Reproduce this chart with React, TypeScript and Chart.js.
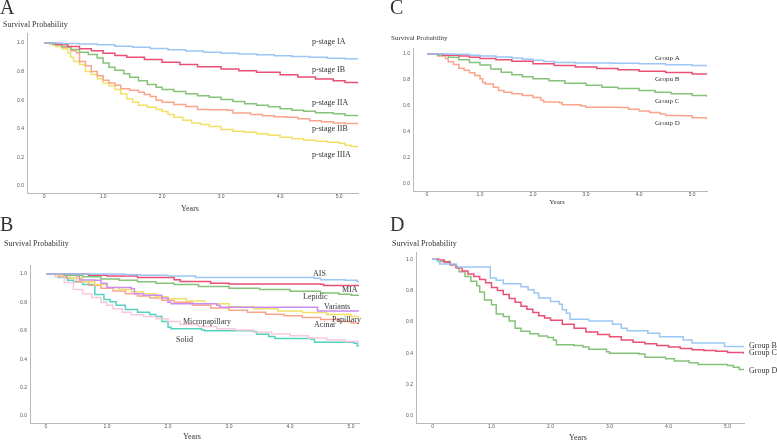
import React, { useEffect, useRef } from 'react';
import { Chart, registerables } from 'chart.js';

Chart.register(...registerables);

type Pt = [number, number];

// ---------- Panel A : p-stage ----------
const stageIA: Pt[] = [[0,1],[0.3,0.997],[0.6,0.993],[0.9,0.987],[1.2,0.978],[1.5,0.97],[1.8,0.961],[2.1,0.952],[2.4,0.944],[2.7,0.936],[3.0,0.929],[3.3,0.923],[3.6,0.917],[3.9,0.911],[4.2,0.905],[4.5,0.9],[4.8,0.894],[5.1,0.889],[5.32,0.886]];
const stageIB: Pt[] = [[0,1],[0.2,0.99],[0.4,0.975],[0.6,0.96],[0.8,0.945],[1.0,0.928],[1.2,0.912],[1.4,0.9],[1.7,0.885],[2.0,0.866],[2.3,0.85],[2.6,0.834],[3.0,0.818],[3.3,0.806],[3.6,0.795],[4.0,0.777],[4.3,0.762],[4.6,0.748],[4.9,0.735],[5.1,0.724],[5.32,0.716]];
const stageIIA: Pt[] = [[0,1],[0.15,0.99],[0.3,0.975],[0.45,0.955],[0.6,0.935],[0.75,0.92],[0.9,0.895],[1.0,0.86],[1.1,0.83],[1.2,0.81],[1.35,0.785],[1.45,0.76],[1.6,0.735],[1.75,0.71],[1.9,0.69],[2.0,0.675],[2.2,0.66],[2.4,0.645],[2.6,0.63],[2.8,0.62],[3.0,0.605],[3.2,0.59],[3.4,0.575],[3.6,0.565],[3.8,0.553],[4.0,0.54],[4.2,0.53],[4.4,0.522],[4.6,0.512],[4.9,0.505],[5.1,0.492],[5.32,0.485]];
const stageIIB: Pt[] = [[0,1],[0.15,0.99],[0.3,0.97],[0.45,0.945],[0.55,0.93],[0.6,0.87],[0.7,0.84],[0.8,0.8],[0.9,0.77],[1.0,0.74],[1.1,0.72],[1.2,0.705],[1.3,0.68],[1.45,0.67],[1.6,0.655],[1.7,0.64],[1.8,0.625],[1.9,0.6],[2.0,0.585],[2.2,0.57],[2.4,0.555],[2.6,0.535],[2.8,0.532],[3.1,0.53],[3.2,0.51],[3.5,0.5],[3.7,0.49],[3.9,0.483],[4.1,0.48],[4.3,0.47],[4.5,0.455],[4.7,0.448],[4.9,0.44],[5.1,0.436],[5.32,0.435]];
const stageIIIA: Pt[] = [[0,1],[0.1,0.99],[0.2,0.975],[0.3,0.96],[0.4,0.93],[0.45,0.9],[0.5,0.87],[0.6,0.85],[0.7,0.8],[0.8,0.78],[0.9,0.75],[1.0,0.72],[1.1,0.7],[1.2,0.675],[1.3,0.645],[1.4,0.61],[1.5,0.585],[1.6,0.565],[1.75,0.55],[1.9,0.535],[2.0,0.52],[2.1,0.5],[2.2,0.48],[2.35,0.46],[2.5,0.44],[2.65,0.43],[2.8,0.415],[3.0,0.395],[3.2,0.383],[3.4,0.375],[3.6,0.365],[3.8,0.355],[4.0,0.34],[4.2,0.33],[4.4,0.32],[4.6,0.312],[4.8,0.305],[5.0,0.298],[5.1,0.285],[5.2,0.275],[5.32,0.268]];

// ---------- Panel C : groups ----------
const cGroupA: Pt[] = [[0,1],[0.5,0.997],[0.8,0.99],[1.0,0.985],[1.3,0.977],[1.6,0.97],[1.8,0.96],[2.0,0.952],[2.2,0.942],[2.4,0.935],[2.8,0.93],[3.5,0.928],[4.0,0.925],[4.5,0.918],[5.0,0.912],[5.28,0.908]];
const cGroupB: Pt[] = [[0,1],[0.3,0.99],[0.6,0.985],[0.8,0.975],[1.0,0.965],[1.3,0.955],[1.6,0.945],[2.0,0.925],[2.4,0.912],[2.8,0.9],[3.2,0.888],[3.6,0.878],[4.0,0.868],[4.5,0.857],[5.0,0.846],[5.28,0.84]];
const cGroupC: Pt[] = [[0,1],[0.2,0.99],[0.4,0.975],[0.6,0.955],[0.8,0.935],[1.0,0.915],[1.2,0.885],[1.4,0.86],[1.6,0.84],[1.8,0.825],[2.0,0.81],[2.3,0.795],[2.6,0.775],[3.0,0.76],[3.3,0.745],[3.6,0.735],[4.0,0.72],[4.3,0.705],[4.6,0.695],[5.0,0.68],[5.28,0.67]];
const cGroupD: Pt[] = [[0,1],[0.2,0.985],[0.35,0.965],[0.4,0.94],[0.5,0.92],[0.6,0.89],[0.7,0.875],[0.8,0.855],[0.9,0.835],[1.0,0.81],[1.05,0.78],[1.1,0.77],[1.25,0.745],[1.35,0.72],[1.45,0.705],[1.6,0.695],[1.8,0.68],[2.0,0.665],[2.15,0.645],[2.2,0.63],[2.5,0.625],[2.55,0.61],[2.9,0.6],[3.0,0.59],[3.6,0.588],[3.8,0.575],[4.0,0.562],[4.2,0.55],[4.4,0.538],[4.5,0.527],[4.8,0.524],[5.0,0.51],[5.28,0.498]];

// ---------- Panel B : histologic subtypes ----------
const bAIS: Pt[] = [[0,1],[1.3,0.995],[1.55,0.99],[2.0,0.985],[2.45,0.975],[3.0,0.975],[4.4,0.97],[4.5,0.96],[4.9,0.955],[5.1,0.946],[5.13,0.946]];
const bMIA: Pt[] = [[0,1],[0.7,0.99],[1.0,0.985],[1.5,0.975],[2.1,0.96],[2.2,0.946],[2.7,0.935],[3.0,0.93],[4.5,0.928],[4.55,0.918],[5.13,0.918]];
const bLepidic: Pt[] = [[0,1],[0.3,0.99],[0.6,0.98],[0.9,0.965],[1.2,0.955],[1.5,0.945],[1.8,0.935],[2.1,0.925],[2.5,0.912],[3.0,0.9],[3.5,0.89],[4.0,0.878],[4.5,0.866],[4.8,0.858],[5.0,0.85],[5.13,0.845]];
const bVariants: Pt[] = [[0,1],[0.5,0.985],[0.55,0.958],[0.8,0.955],[0.9,0.935],[1.0,0.905],[1.4,0.895],[1.45,0.86],[1.6,0.85],[1.9,0.83],[2.0,0.8],[2.05,0.79],[2.8,0.78],[2.85,0.765],[4.4,0.765],[4.45,0.74],[5.13,0.74]];
const bPapillary: Pt[] = [[0,1],[0.2,0.99],[0.4,0.97],[0.6,0.945],[0.8,0.925],[1.0,0.905],[1.2,0.89],[1.4,0.875],[1.6,0.86],[1.8,0.84],[2.0,0.825],[2.3,0.81],[2.6,0.79],[3.0,0.77],[3.4,0.755],[3.8,0.74],[4.2,0.728],[4.6,0.715],[5.0,0.7],[5.13,0.69]];
const bAcinar: Pt[] = [[0,1],[0.2,0.985],[0.35,0.97],[0.5,0.945],[0.7,0.92],[0.9,0.9],[1.1,0.88],[1.3,0.86],[1.5,0.845],[1.7,0.83],[1.9,0.815],[2.1,0.8],[2.4,0.78],[2.7,0.76],[3.0,0.745],[3.3,0.73],[3.6,0.717],[3.9,0.705],[4.2,0.693],[4.5,0.68],[4.8,0.665],[5.0,0.655],[5.13,0.646]];
const bMicropapillary: Pt[] = [[0,1],[0.15,0.98],[0.3,0.94],[0.45,0.89],[0.6,0.86],[0.75,0.835],[0.9,0.8],[1.0,0.78],[1.1,0.755],[1.25,0.73],[1.4,0.712],[1.6,0.7],[1.8,0.685],[2.0,0.665],[2.2,0.645],[2.5,0.63],[2.8,0.615],[3.1,0.605],[3.4,0.59],[3.7,0.578],[4.0,0.565],[4.3,0.55],[4.6,0.535],[4.9,0.525],[5.13,0.512]];
const bSolid: Pt[] = [[0,1],[0.2,0.975],[0.35,0.955],[0.45,0.945],[0.6,0.925],[0.8,0.855],[0.95,0.82],[1.05,0.805],[1.15,0.78],[1.3,0.75],[1.5,0.73],[1.7,0.715],[1.8,0.7],[1.9,0.665],[2.0,0.625],[2.05,0.615],[2.55,0.605],[2.6,0.6],[3.4,0.595],[3.45,0.575],[3.65,0.56],[3.75,0.545],[4.35,0.54],[4.4,0.52],[5.05,0.512],[5.1,0.495],[5.13,0.495]];

// ---------- Panel D : groups ----------
const dGroupB: Pt[] = [[0,1],[0.07,0.99],[0.12,0.97],[0.4,0.96],[0.42,0.95],[0.98,0.88],[1.08,0.865],[1.2,0.843],[1.5,0.825],[1.62,0.805],[1.72,0.785],[1.8,0.752],[2.0,0.73],[2.15,0.713],[2.2,0.677],[2.27,0.655],[2.33,0.617],[2.65,0.606],[3.05,0.585],[3.2,0.56],[3.3,0.543],[3.65,0.528],[3.85,0.506],[4.25,0.485],[4.4,0.465],[4.95,0.443],[5.28,0.443]];
const dGroupC: Pt[] = [[0,1],[0.1,0.995],[0.2,0.98],[0.3,0.965],[0.4,0.945],[0.5,0.925],[0.6,0.905],[0.7,0.89],[0.8,0.87],[0.9,0.85],[1.0,0.82],[1.1,0.8],[1.2,0.775],[1.3,0.75],[1.4,0.725],[1.5,0.7],[1.6,0.68],[1.7,0.66],[1.8,0.64],[1.9,0.625],[2.0,0.61],[2.2,0.585],[2.4,0.56],[2.6,0.535],[2.8,0.52],[3.0,0.505],[3.2,0.485],[3.4,0.47],[3.6,0.46],[3.8,0.45],[4.0,0.44],[4.2,0.43],[4.4,0.423],[4.6,0.417],[4.8,0.412],[5.0,0.405],[5.28,0.395]];
const dGroupD: Pt[] = [[0,1],[0.1,0.985],[0.3,0.965],[0.4,0.945],[0.45,0.92],[0.55,0.89],[0.65,0.86],[0.75,0.83],[0.8,0.79],[0.88,0.74],[1.0,0.71],[1.08,0.65],[1.2,0.635],[1.3,0.605],[1.4,0.56],[1.5,0.54],[1.65,0.525],[1.8,0.51],[1.95,0.5],[2.05,0.485],[2.1,0.455],[2.4,0.45],[2.55,0.44],[2.65,0.425],[2.95,0.41],[3.0,0.4],[3.5,0.395],[3.6,0.375],[3.95,0.365],[4.1,0.35],[4.35,0.34],[4.5,0.328],[5.0,0.322],[5.1,0.31],[5.2,0.296],[5.28,0.294]];

// ---------- ticks ----------
const xTickValues = [0, 1, 2, 3, 4, 5];
const yTickValues = [0, 0.2, 0.4, 0.6, 0.8, 1.0];

const BLUE = '#9cc6f4';
const RED = '#ea4f75';
const GREEN = '#86c27a';
const SALMON = '#fba48c';
const YELLOW = '#f2e066';
const PURPLE = '#c98ef0';
const PINK = '#f7c8de';
const TEAL = '#55d2bf';

const SERIF = '"Liberation Serif", "Times New Roman", serif';
const SANS = '"Liberation Sans", Arial, sans-serif';

type TextItem = { text: string; x: number; y: number; size: number; align?: CanvasTextAlign };
type Series = { data: Pt[]; color: string };
type Panel = {
  left: number; top: number; w: number; h: number;
  area: { l: number; t: number; r: number; b: number };
  xr: [number, number]; yr: [number, number];
  series: Series[];
  texts: TextItem[];
};

const panels: Panel[] = [
  {
    left: 0, top: 0, w: 390, h: 215,
    area: { l: 27, t: 33, r: 358, b: 193 },
    xr: [-0.29, 5.32], yr: [-0.05, 1.07],
    series: [
      { data: stageIA, color: BLUE },
      { data: stageIB, color: RED },
      { data: stageIIA, color: GREEN },
      { data: stageIIB, color: SALMON },
      { data: stageIIIA, color: YELLOW },
    ],
    texts: [
      { text: 'A', x: 0, y: 14, size: 20 },
      { text: 'Survival Probability', x: 3, y: 27, size: 8 },
      { text: 'Years', x: 190, y: 211, size: 8, align: 'center' },
      { text: 'p-stage IA', x: 312, y: 44, size: 8 },
      { text: 'p-stage IB', x: 312, y: 72, size: 8 },
      { text: 'p-stage IIA', x: 312, y: 105, size: 8 },
      { text: 'p-stage IIB', x: 312, y: 131, size: 8 },
      { text: 'p-stage IIIA', x: 312, y: 157, size: 8 },
    ],
  },
  {
    left: 390, top: 0, w: 387, h: 215,
    area: { l: 23, t: 48, r: 317, b: 191 },
    xr: [-0.264, 5.28], yr: [-0.054, 1.046],
    series: [
      { data: cGroupA, color: BLUE },
      { data: cGroupB, color: RED },
      { data: cGroupC, color: GREEN },
      { data: cGroupD, color: SALMON },
    ],
    texts: [
      { text: 'C', x: 0, y: 14, size: 20 },
      { text: 'Survival Probability', x: 1, y: 40, size: 7 },
      { text: 'Years', x: 167, y: 204, size: 7, align: 'center' },
      { text: 'Group A', x: 265, y: 60, size: 7 },
      { text: 'Gropu B', x: 265, y: 81, size: 7 },
      { text: 'Group C', x: 265, y: 103, size: 7 },
      { text: 'Group D', x: 265, y: 125, size: 7 },
    ],
  },
  {
    left: 0, top: 215, w: 390, h: 227,
    area: { l: 30, t: 50, r: 359, b: 208 },
    xr: [-0.262, 5.13], yr: [-0.049, 1.063],
    series: [
      { data: bAIS, color: BLUE },
      { data: bMIA, color: RED },
      { data: bLepidic, color: GREEN },
      { data: bVariants, color: PURPLE },
      { data: bPapillary, color: YELLOW },
      { data: bAcinar, color: SALMON },
      { data: bMicropapillary, color: PINK },
      { data: bSolid, color: TEAL },
    ],
    texts: [
      { text: 'B', x: 0, y: 16, size: 20 },
      { text: 'Survival Probability', x: 4, y: 30.5, size: 8 },
      { text: 'Years', x: 192, y: 224, size: 8, align: 'center' },
      { text: 'AIS', x: 313, y: 61, size: 8 },
      { text: 'MIA', x: 342, y: 76.5, size: 8 },
      { text: 'Lepidic', x: 303, y: 84, size: 8 },
      { text: 'Variants', x: 324, y: 94, size: 8 },
      { text: 'Papillary', x: 332, y: 106.5, size: 8 },
      { text: 'Acinar', x: 314, y: 112, size: 8 },
      { text: 'Micropapillary', x: 183, y: 109, size: 8 },
      { text: 'Solid', x: 176, y: 126.5, size: 8 },
    ],
  },
  {
    left: 390, top: 215, w: 387, h: 227,
    area: { l: 26, t: 37, r: 354, b: 208 },
    xr: [-0.28, 5.28], yr: [-0.045, 1.046],
    series: [
      { data: dGroupB, color: BLUE },
      { data: dGroupC, color: RED },
      { data: dGroupD, color: GREEN },
    ],
    texts: [
      { text: 'D', x: 0, y: 16, size: 20 },
      { text: 'Survival Probability', x: 2, y: 30.5, size: 8 },
      { text: 'Years', x: 188, y: 225, size: 8, align: 'center' },
      { text: 'Group B', x: 359, y: 132.5, size: 8 },
      { text: 'Group C', x: 359, y: 140, size: 8 },
      { text: 'Group D', x: 359, y: 158, size: 8 },
    ],
  },
];

const textPlugin = {
  id: 'panelTexts',
  afterDraw(chart: any, _args: any, opts: any) {
    const ctx: CanvasRenderingContext2D = chart.ctx;
    ctx.save();
    ctx.fillStyle = '#333333';
    ctx.textBaseline = 'alphabetic';
    for (const t of (opts.items || []) as TextItem[]) {
      ctx.font = `${t.size}px ${SERIF}`;
      ctx.textAlign = t.align || 'left';
      ctx.fillText(t.text, t.x, t.y);
    }
    ctx.restore();
  },
};

function KMPanel({ p }: { p: Panel }) {
  const ref = useRef<HTMLCanvasElement | null>(null);
  useEffect(() => {
    if (!ref.current) return;
    const chart = new Chart(ref.current, {
      type: 'line',
      data: {
        datasets: p.series.map((s) => ({
          data: s.data.map(([x, y]) => ({ x, y })),
          borderColor: s.color,
          borderWidth: 1.5,
          pointRadius: 0,
          stepped: true,
          fill: false,
        })),
      },
      options: {
        animation: false,
        responsive: false,
        devicePixelRatio: 1,
        events: [],
        layout: { padding: { left: 0, top: p.area.t, right: p.w - p.area.r, bottom: 0 } },
        plugins: {
          legend: { display: false },
          tooltip: { enabled: false },
          panelTexts: { items: p.texts },
        } as any,
        scales: {
          x: {
            type: 'linear',
            min: p.xr[0],
            max: p.xr[1],
            grid: { display: false, drawTicks: false },
            border: { display: true, color: '#b8b8b8', width: 1 },
            afterBuildTicks: (s: any) => { s.ticks = xTickValues.map((v) => ({ value: v })); },
            afterFit: (s: any) => { s.height = p.h - p.area.b; },
            ticks: {
              autoSkip: false,
              maxRotation: 0,
              padding: 1,
              color: '#555',
              font: { size: 5, family: SANS },
              callback: (v: any) => (Number(v) === 0 ? '0' : Number(v).toFixed(1)),
            },
          },
          y: {
            type: 'linear',
            min: p.yr[0],
            max: p.yr[1],
            grid: { display: false, drawTicks: false },
            border: { display: true, color: '#b8b8b8', width: 1 },
            afterBuildTicks: (s: any) => { s.ticks = yTickValues.map((v) => ({ value: v })); },
            afterFit: (s: any) => { s.width = p.area.l; },
            ticks: {
              autoSkip: false,
              padding: 3,
              color: '#555',
              font: { size: 5, family: SANS },
              callback: (v: any) => Number(v).toFixed(1),
            },
          },
        },
      },
      plugins: [textPlugin],
    } as any);
    return () => chart.destroy();
  }, [p]);
  return (
    <canvas
      ref={ref}
      width={p.w}
      height={p.h}
      style={{ position: 'absolute', left: p.left, top: p.top, width: p.w, height: p.h }}
    />
  );
}

export default function App() {
  return (
    <div style={{ position: 'fixed', left: 0, top: 0, width: 777, height: 442, background: '#fff', overflow: 'hidden' }}>
      {panels.map((p, i) => (
        <KMPanel key={i} p={p} />
      ))}
    </div>
  );
}
